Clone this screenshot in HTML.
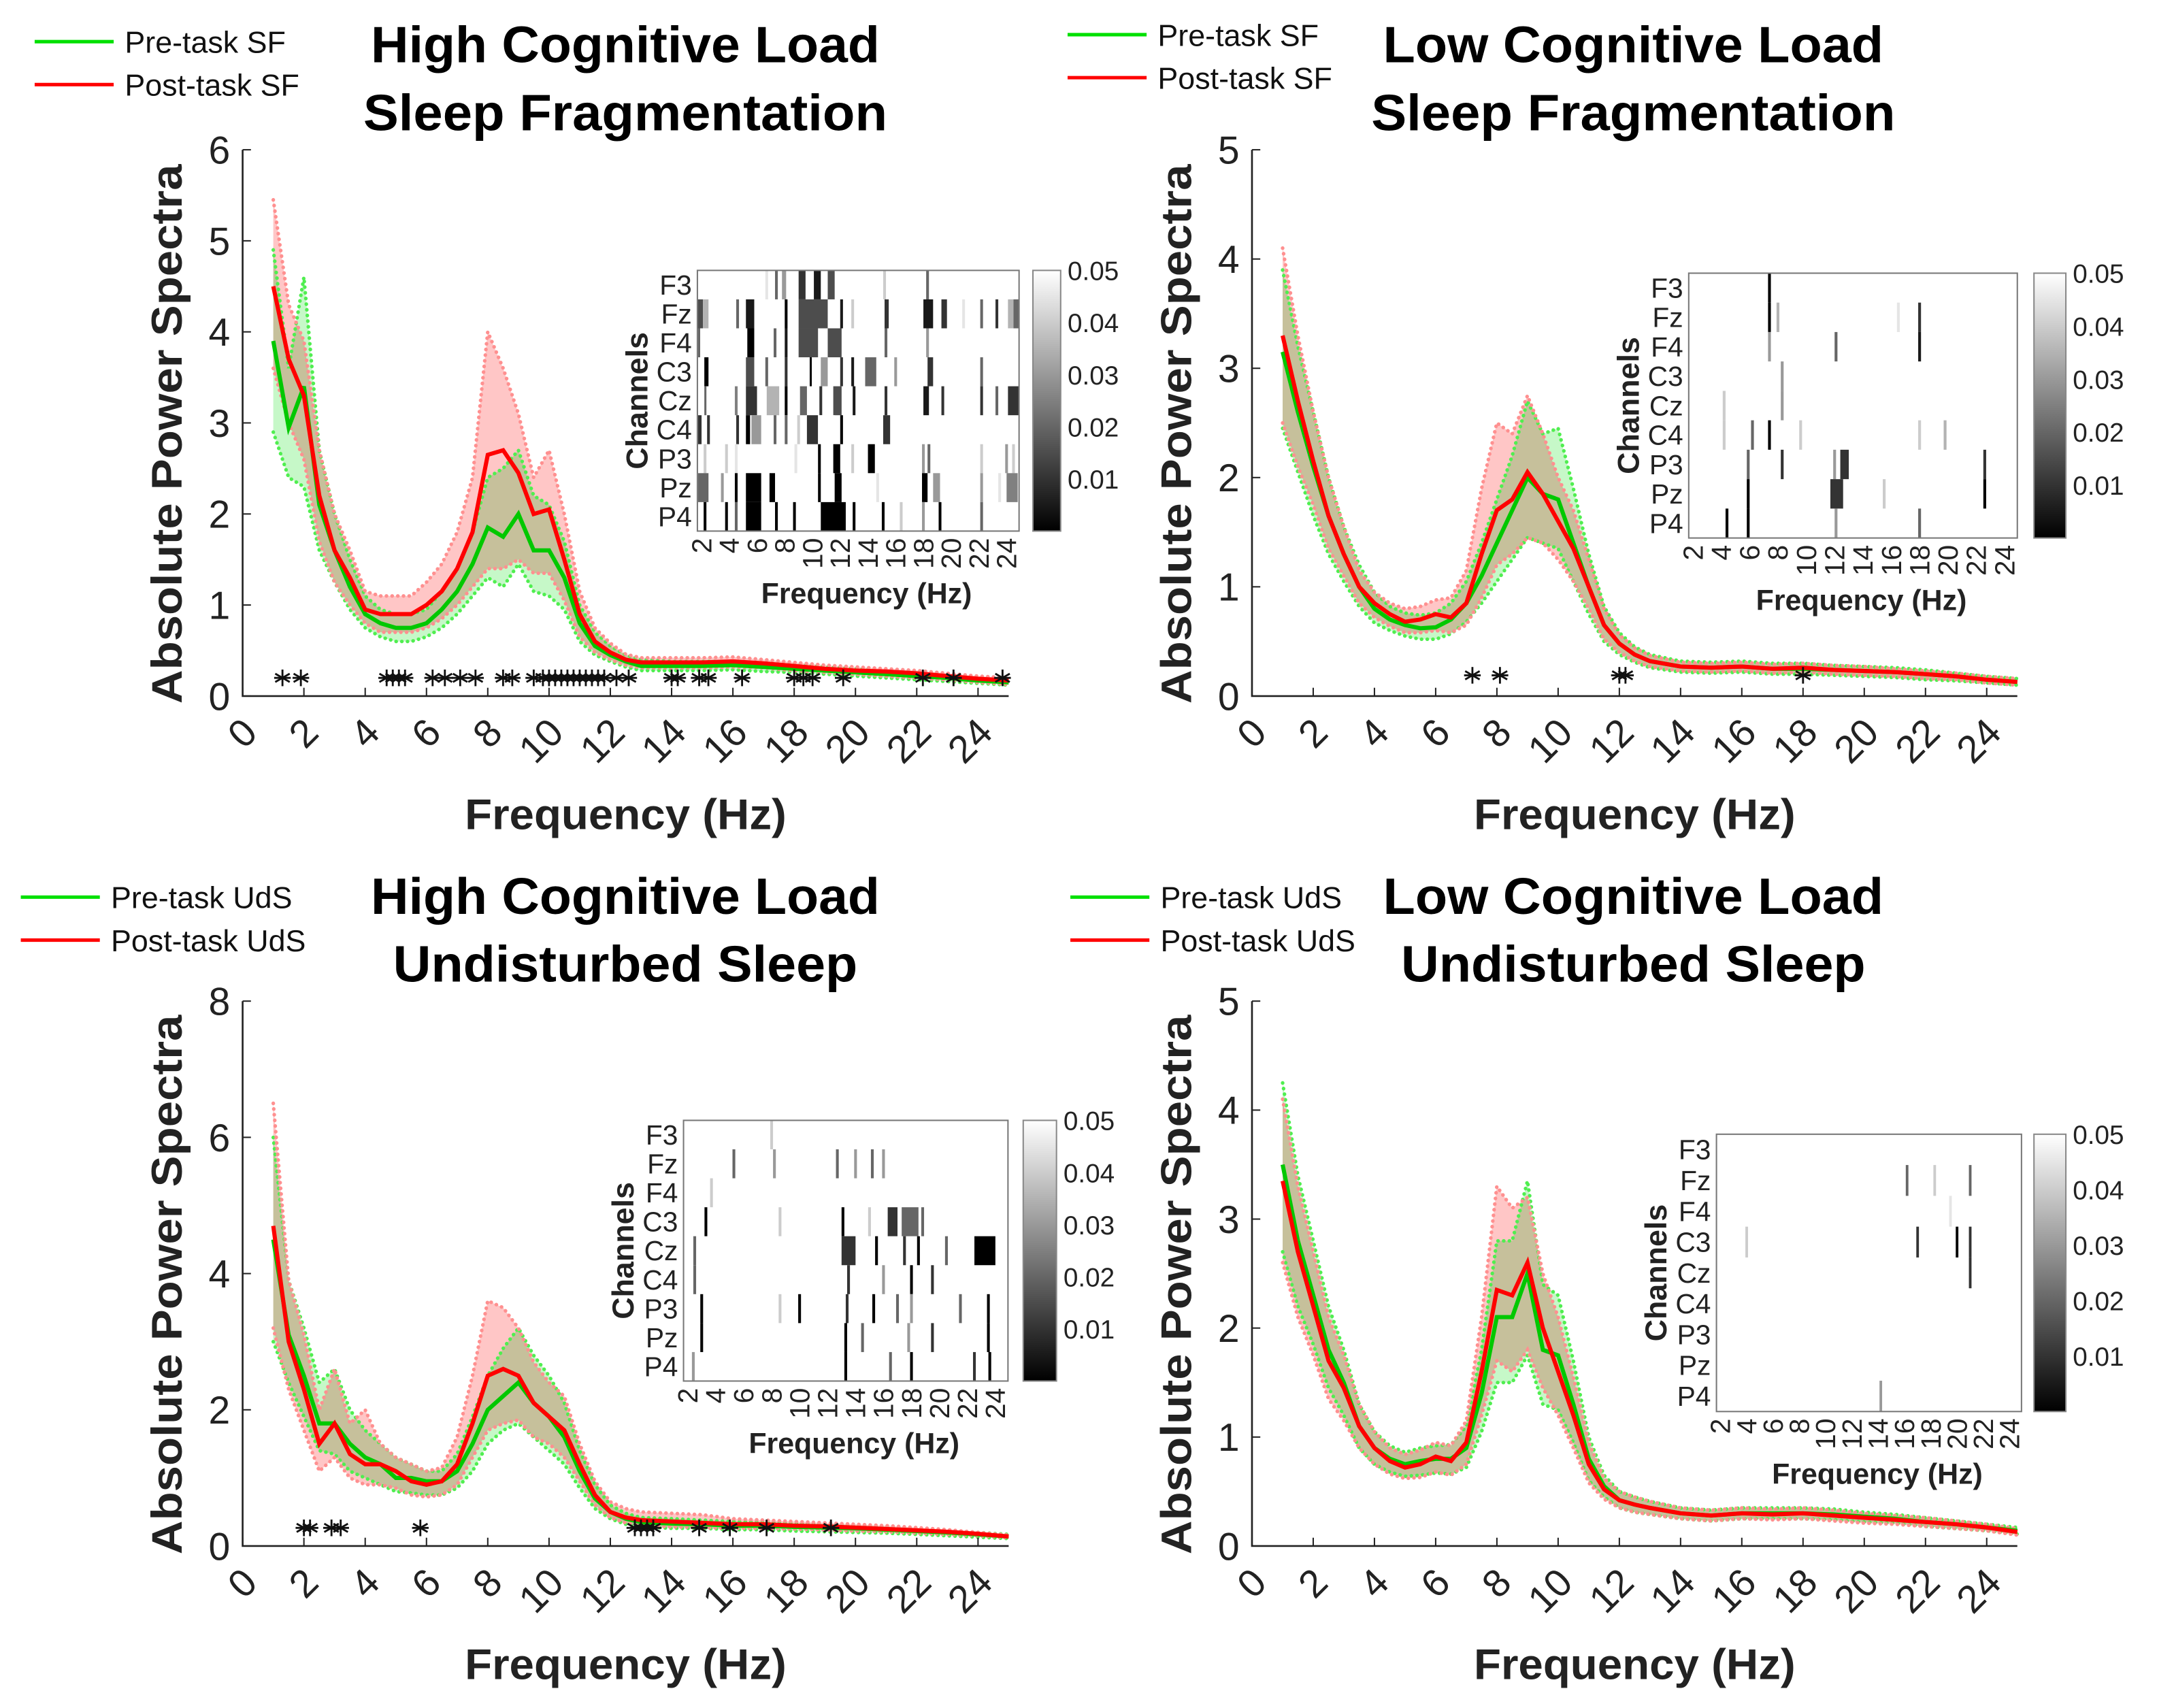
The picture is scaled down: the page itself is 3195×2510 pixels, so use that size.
<!DOCTYPE html>
<html><head><meta charset="utf-8"><style>
html,body{margin:0;padding:0;background:#fff}
svg{display:block}
text{font-family:"Liberation Sans",Arial,sans-serif}
</style></head><body>
<svg id="fig" xmlns="http://www.w3.org/2000/svg" width="3195" height="2510" viewBox="0 0 1568 1231.8">
<rect width="1568" height="1232" fill="#fff"/>
</svg>
<script>
// ---- data ----
const freq = [1,1.5,2,2.5,3,3.5,4,4.5,5,5.5,6,6.5,7,7.5,8,8.5,9,9.5,10,10.5,11,11.5,12,12.5,13,14,15,16,17,18,19,20,21,22,23,24,25];
// High load SF
const hsfPre   = [3.9,2.95,3.4,2.1,1.6,1.2,0.9,0.8,0.75,0.75,0.8,0.95,1.15,1.45,1.85,1.75,2.0,1.6,1.6,1.3,0.8,0.55,0.45,0.38,0.33,0.33,0.33,0.34,0.32,0.3,0.28,0.26,0.24,0.22,0.2,0.17,0.15];
const hsfPreHi = [4.9,3.6,4.6,2.7,2.0,1.5,1.1,0.95,0.9,0.9,0.95,1.15,1.4,1.8,2.4,2.5,2.7,2.2,2.1,1.7,1.0,0.7,0.55,0.45,0.4,0.38,0.38,0.38,0.36,0.34,0.32,0.3,0.27,0.25,0.22,0.19,0.17];
const hsfPreLo = [2.9,2.4,2.3,1.6,1.25,0.95,0.75,0.65,0.6,0.6,0.65,0.75,0.9,1.1,1.3,1.2,1.45,1.15,1.1,0.95,0.6,0.45,0.38,0.32,0.28,0.28,0.28,0.29,0.27,0.26,0.24,0.22,0.2,0.18,0.16,0.14,0.12];
const hsfPost   = [4.5,3.7,3.3,2.2,1.6,1.3,0.95,0.9,0.9,0.9,1.0,1.15,1.4,1.8,2.65,2.7,2.45,2.0,2.05,1.5,0.9,0.6,0.48,0.4,0.37,0.37,0.37,0.38,0.36,0.33,0.3,0.28,0.27,0.25,0.22,0.19,0.17];
const hsfPostHi = [5.45,4.3,3.9,2.7,2.0,1.6,1.15,1.1,1.1,1.1,1.25,1.45,1.8,2.4,4.0,3.6,3.1,2.4,2.7,2.0,1.15,0.75,0.58,0.46,0.42,0.42,0.42,0.43,0.4,0.37,0.34,0.32,0.3,0.28,0.25,0.22,0.2];
const hsfPostLo = [3.6,3.0,2.6,1.7,1.25,1.0,0.8,0.7,0.7,0.7,0.75,0.85,1.0,1.2,1.4,1.4,1.5,1.35,1.35,1.05,0.65,0.48,0.4,0.34,0.31,0.31,0.31,0.32,0.31,0.28,0.26,0.24,0.22,0.2,0.18,0.15,0.13];
const hsfStars = [1.3,1.9,4.7,4.9,5.1,5.3,6.2,6.6,7.1,7.6,8.5,8.8,9.5,9.8,10.0,10.2,10.4,10.6,10.8,11.0,11.2,11.4,11.6,11.8,12.2,12.6,14.0,14.2,14.9,15.2,16.3,18.0,18.3,18.6,19.6,22.2,23.2,24.8];
// Low load SF
const lsfPre   = [3.15,2.6,2.1,1.65,1.3,1.0,0.8,0.7,0.65,0.62,0.63,0.7,0.85,1.1,1.4,1.7,2.0,1.85,1.8,1.4,1.0,0.65,0.48,0.38,0.32,0.27,0.26,0.27,0.25,0.25,0.24,0.23,0.22,0.2,0.18,0.15,0.13];
const lsfPreHi = [3.9,3.2,2.6,2.0,1.55,1.2,0.95,0.82,0.76,0.74,0.76,0.85,1.05,1.4,1.8,2.2,2.7,2.4,2.45,1.9,1.3,0.82,0.58,0.45,0.38,0.32,0.31,0.32,0.3,0.3,0.28,0.27,0.26,0.24,0.21,0.18,0.16];
const lsfPreLo = [2.45,2.05,1.65,1.3,1.05,0.82,0.67,0.6,0.55,0.52,0.52,0.57,0.68,0.85,1.05,1.25,1.45,1.4,1.35,1.05,0.75,0.5,0.38,0.31,0.26,0.22,0.21,0.22,0.2,0.2,0.19,0.18,0.17,0.15,0.14,0.12,0.1];
const lsfPost   = [3.3,2.7,2.15,1.65,1.3,1.0,0.85,0.75,0.68,0.7,0.75,0.72,0.85,1.3,1.7,1.8,2.05,1.85,1.6,1.35,1.0,0.65,0.48,0.38,0.32,0.27,0.26,0.27,0.25,0.26,0.24,0.23,0.22,0.2,0.18,0.15,0.13];
const lsfPostHi = [4.1,3.3,2.6,2.0,1.55,1.15,0.95,0.85,0.8,0.82,0.88,0.9,1.15,1.9,2.5,2.4,2.75,2.4,2.0,1.7,1.25,0.8,0.56,0.44,0.37,0.31,0.3,0.31,0.29,0.3,0.28,0.27,0.25,0.23,0.21,0.18,0.16];
const lsfPostLo = [2.5,2.1,1.75,1.35,1.1,0.85,0.72,0.64,0.58,0.58,0.6,0.58,0.65,0.9,1.2,1.3,1.45,1.4,1.25,1.05,0.8,0.52,0.4,0.32,0.27,0.23,0.22,0.23,0.21,0.22,0.2,0.19,0.18,0.16,0.15,0.12,0.1];
const lsfStars = [7.2,8.1,12.0,12.2,18.0];
// High load UdS
const hudPre   = [4.5,3.1,2.5,1.8,1.8,1.5,1.3,1.2,1.0,1.0,0.95,0.95,1.1,1.5,2.0,2.2,2.4,2.1,1.9,1.6,1.1,0.7,0.5,0.4,0.35,0.33,0.32,0.3,0.3,0.28,0.27,0.26,0.24,0.22,0.2,0.17,0.14];
const hudPreHi = [6.0,3.9,3.2,2.4,2.6,2.0,1.7,1.5,1.3,1.2,1.1,1.1,1.35,1.9,2.5,2.9,3.2,2.8,2.5,2.1,1.4,0.9,0.6,0.48,0.42,0.4,0.38,0.36,0.35,0.33,0.32,0.3,0.28,0.26,0.23,0.2,0.17];
const hudPreLo = [3.0,2.4,1.9,1.4,1.35,1.1,1.0,0.9,0.8,0.78,0.75,0.75,0.85,1.1,1.5,1.7,1.8,1.6,1.4,1.2,0.85,0.55,0.4,0.32,0.28,0.26,0.26,0.24,0.24,0.22,0.21,0.2,0.19,0.17,0.15,0.13,0.11];
const hudPost   = [4.7,3.0,2.3,1.5,1.8,1.35,1.2,1.2,1.1,0.95,0.9,0.95,1.2,1.8,2.5,2.6,2.5,2.1,1.9,1.7,1.2,0.75,0.5,0.42,0.38,0.36,0.34,0.32,0.32,0.3,0.29,0.27,0.25,0.23,0.21,0.18,0.14];
const hudPostHi = [6.5,3.9,3.1,2.0,2.6,1.8,2.0,1.5,1.3,1.2,1.1,1.15,1.6,2.5,3.6,3.5,3.2,2.7,2.4,2.2,1.5,0.95,0.65,0.55,0.5,0.48,0.46,0.4,0.38,0.36,0.34,0.32,0.3,0.27,0.24,0.2,0.16];
const hudPostLo = [3.2,2.3,1.7,1.1,1.3,1.0,0.9,0.9,0.85,0.75,0.72,0.75,0.9,1.3,1.7,1.8,1.85,1.6,1.5,1.3,0.95,0.6,0.42,0.34,0.3,0.28,0.27,0.26,0.26,0.25,0.24,0.22,0.21,0.19,0.17,0.15,0.12];
const hudStars = [2.0,2.2,2.9,3.2,5.8,12.8,13.0,13.2,13.4,14.9,15.9,17.1,19.2];
// Low load UdS
const ludPre   = [3.5,2.8,2.3,1.8,1.5,1.1,0.9,0.8,0.75,0.78,0.8,0.8,0.9,1.4,2.1,2.1,2.5,1.8,1.75,1.3,0.8,0.55,0.42,0.38,0.35,0.3,0.28,0.3,0.3,0.3,0.29,0.27,0.25,0.22,0.2,0.17,0.14];
const ludPreHi = [4.25,3.4,2.8,2.2,1.8,1.3,1.05,0.92,0.86,0.9,0.92,0.93,1.1,1.8,2.8,2.8,3.35,2.4,2.3,1.7,1.0,0.65,0.5,0.45,0.41,0.35,0.33,0.35,0.35,0.35,0.34,0.31,0.29,0.26,0.23,0.2,0.17];
const ludPreLo = [2.7,2.2,1.85,1.45,1.2,0.9,0.75,0.68,0.64,0.65,0.67,0.66,0.72,1.05,1.5,1.5,1.75,1.3,1.25,0.95,0.6,0.45,0.35,0.31,0.29,0.25,0.23,0.25,0.25,0.25,0.24,0.22,0.21,0.18,0.16,0.14,0.11];
const ludPost   = [3.35,2.7,2.2,1.7,1.45,1.1,0.9,0.78,0.72,0.75,0.82,0.78,0.95,1.6,2.35,2.3,2.6,2.0,1.6,1.2,0.75,0.52,0.42,0.38,0.35,0.3,0.28,0.3,0.29,0.3,0.28,0.26,0.24,0.22,0.2,0.17,0.13];
const ludPostHi = [4.1,3.3,2.7,2.1,1.75,1.3,1.05,0.9,0.84,0.88,0.95,0.92,1.15,2.1,3.3,3.1,3.2,2.5,2.1,1.55,0.95,0.62,0.5,0.45,0.41,0.35,0.33,0.35,0.34,0.35,0.33,0.3,0.28,0.26,0.23,0.2,0.16];
const ludPostLo = [2.6,2.1,1.75,1.35,1.15,0.9,0.75,0.66,0.62,0.63,0.68,0.65,0.75,1.2,1.7,1.6,1.8,1.45,1.2,0.9,0.58,0.43,0.35,0.31,0.29,0.25,0.23,0.25,0.24,0.25,0.23,0.21,0.2,0.18,0.16,0.14,0.1];
const ludStars = [];
const starLevel = 0.2;
// heatmap channels and ticks
const channels = ["F3","Fz","F4","C3","Cz","C4","P3","Pz","P4"];
const hmTicks = [2,4,6,8,10,12,14,16,18,20,22,24];
const cbTicks = [0.01,0.02,0.03,0.04,0.05];
// strips: [row, fStart, fEnd, p]
const hsfHeat = [[0,7.3,7.5,.02],[0,7.8,8.1,.03],[0,9.0,9.5,.01],[0,10.1,10.6,.005],[0,11.1,11.6,.015],[0,6.6,6.8,.045],[0,15.1,15.3,.04],[0,18.2,18.4,.02],
[1,1.7,2.1,.015],[1,2.1,2.5,.035],[1,4.5,4.7,.02],[1,5.2,5.8,.005],[1,8.0,8.2,0],[1,9.0,11.1,.015],[1,12.0,12.2,.005],[1,12.8,13.0,.04],[1,15.2,15.5,.01],[1,18.0,18.7,.005],[1,19.3,19.7,.01],[1,20.8,21.0,.045],[1,22.1,22.3,.02],[1,23.2,23.4,.01],[1,24.1,24.5,.035],[1,24.5,24.9,.02],
[2,1.75,1.9,.02],[2,5.3,5.8,0],[2,7.2,7.4,.02],[2,8.0,8.2,.005],[2,9.0,10.4,.015],[2,11.1,12.1,.015],[2,15.2,15.4,.02],[2,18.2,18.4,.03],
[3,2.2,2.5,0],[3,5.2,5.8,.015],[3,6.6,6.8,.02],[3,8.0,8.2,.01],[3,9.8,9.95,0],[3,10.6,11.1,.03],[3,12.0,12.2,.01],[3,12.8,13.0,.005],[3,13.8,14.6,.02],[3,15.9,16.1,.03],[3,18.3,18.7,.01],[3,22.1,22.3,.02],
[4,2.2,2.3,.02],[4,4.4,4.6,.025],[4,5.2,6.0,.01],[4,6.7,7.6,.035],[4,8.0,8.2,0],[4,9.1,9.6,.02],[4,10.5,10.7,.01],[4,11.5,12.1,.015],[4,12.9,13.1,.005],[4,15.2,15.4,.01],[4,18.0,18.4,.005],[4,19.3,19.5,.01],[4,22.1,22.3,.01],[4,23.2,23.4,.02],[4,24.1,24.9,.01],
[5,1.75,2.0,.01],[5,2.4,2.6,.01],[5,4.5,4.7,.01],[5,5.2,5.5,0],[5,5.6,6.3,.03],[5,7.2,7.4,.02],[5,8.0,8.2,.02],[5,8.9,9.1,.04],[5,9.6,10.4,.01],[5,10.4,11.6,.05],[5,12.0,12.2,0],[5,15.1,15.6,.01],
[6,2.15,2.35,.04],[6,3.7,3.9,.04],[6,4.4,4.6,.045],[6,8.7,8.9,.045],[6,10.4,10.6,0],[6,11.5,12.0,0],[6,12.8,13.0,.04],[6,14.0,14.5,0],[6,17.9,18.1,.03],[6,18.3,18.5,.02],[6,22.1,22.3,.04],[6,23.9,24.1,.03],[6,24.4,24.6,.04],
[7,1.75,2.5,.02],[7,3.4,3.6,.03],[7,4.4,4.6,0],[7,5.2,6.3,0],[7,6.9,7.3,0],[7,10.4,10.6,0],[7,11.6,12.1,0],[7,14.6,14.8,.045],[7,17.9,18.3,0],[7,18.7,19.2,.03],[7,22.1,22.3,.03],[7,23.4,23.6,.045],[7,24.0,24.8,.025],
[8,2.15,2.35,0],[8,3.7,3.9,0],[8,4.4,4.6,.02],[8,5.2,6.3,0],[8,7.3,7.5,0],[8,8.6,8.8,0],[8,10.6,12.4,0],[8,12.9,13.1,0],[8,15.0,15.2,0],[8,16.3,16.5,.04],[8,17.9,18.1,.03],[8,19.1,19.3,0],[8,22.1,22.3,.02]];
const lsfHeat = [[0,7.3,7.5,0],[1,7.9,8.1,.035],[1,7.3,7.5,0],[1,17.9,18.1,.01],[1,16.4,16.6,.045],[2,7.3,7.5,.03],[2,12.0,12.2,.02],[2,17.9,18.1,.005],[3,8.2,8.4,.03],[4,4.1,4.3,.04],[4,8.2,8.4,.03],[5,4.1,4.3,.04],[5,6.1,6.3,.02],[5,7.3,7.5,0],[5,9.5,9.7,.04],[5,17.9,18.1,.04],[5,19.7,19.9,.035],[6,5.8,6.0,.02],[6,8.2,8.4,.01],[6,11.9,12.1,.03],[6,12.4,13.0,.01],[6,22.5,22.7,.01],[7,5.8,6.0,0],[7,11.7,12.6,.01],[7,15.4,15.6,.04],[7,22.5,22.7,0],[8,4.3,4.5,0],[8,5.8,6.0,0],[8,12.0,12.2,.03],[8,17.9,18.1,.02]];
const hudHeat = [[0,7.9,8.1,.04],[1,5.2,5.4,.02],[1,8.1,8.3,.03],[1,12.6,12.8,.02],[1,13.9,14.1,.03],[1,15.1,15.3,.02],[1,15.9,16.1,.03],[2,3.6,3.8,.04],[3,3.2,3.4,0],[3,8.5,8.7,.04],[3,13.0,13.2,0],[3,14.9,15.1,.04],[3,16.3,17.0,.01],[3,17.3,18.5,.02],[3,18.7,18.9,.02],[4,2.4,2.6,.02],[4,13.0,14.0,.01],[4,15.4,15.6,0],[4,17.4,17.6,.01],[4,18.4,18.6,0],[4,20.4,20.6,.02],[4,22.5,24.0,0],[5,2.4,2.6,.02],[5,13.4,13.6,.01],[5,15.9,16.1,.03],[5,17.9,18.1,0],[5,19.4,19.6,.01],[6,2.9,3.1,0],[6,8.5,8.7,.04],[6,9.9,10.1,0],[6,13.3,13.5,.01],[6,15.2,15.4,0],[6,16.9,17.1,.02],[6,17.9,18.1,.03],[6,21.4,21.6,.02],[6,23.4,23.6,0],[7,2.9,3.1,0],[7,13.2,13.4,0],[7,14.4,14.6,.02],[7,17.7,17.9,.03],[7,19.4,19.6,.01],[7,23.4,23.6,0],[8,2.3,2.5,.03],[8,13.2,13.4,0],[8,16.4,16.6,.02],[8,17.9,18.1,0],[8,22.4,22.6,.01],[8,23.5,23.7,0]];
const ludHeat = [[1,16.1,16.3,.02],[1,18.2,18.4,.04],[1,20.9,21.1,.02],[2,19.4,19.6,.045],[3,3.9,4.1,.04],[3,16.9,17.1,.01],[3,19.9,20.1,0],[3,20.9,21.1,.01],[4,20.9,21.1,.01],[8,14.1,14.3,.03]];

// ---- drawing ----
const NS="http://www.w3.org/2000/svg";
const svg=document.getElementById('fig');
function el(tag,attrs,parent){const e=document.createElementNS(NS,tag);for(const k in attrs)e.setAttribute(k,attrs[k]);(parent||svg).appendChild(e);return e;}
function txt(s,attrs,parent){const e=el('text',attrs,parent);e.textContent=s;return e;}

function drawPanel(P){
  const g=el('g',{});
  
  
  const sx=f=>P.x0+f/25*(P.x1-P.x0);
  const sy=v=>P.yb-v/P.ymax*(P.yb-P.yt);
  const bandPath=(hi,lo)=>{let d='';freq.forEach((f,i)=>{d+=(i?'L':'M')+sx(f).toFixed(1)+','+sy(hi[i]).toFixed(1);});for(let i=freq.length-1;i>=0;i--)d+='L'+sx(freq[i]).toFixed(1)+','+sy(lo[i]).toFixed(1);return d+'Z';};
  const linePath=arr=>freq.map((f,i)=>(i?'L':'M')+sx(f).toFixed(1)+','+sy(arr[i]).toFixed(1)).join('');
  const bands=el('g',{style:'isolation:isolate'},g);
  const b1=el('path',{d:bandPath(P.preHi,P.preLo),fill:'#c6f8c8',style:'mix-blend-mode:multiply'},bands);
  
  
  const b2=el('path',{d:bandPath(P.postHi,P.postLo),fill:'#ffc6c6',style:'mix-blend-mode:multiply'},bands);
  
  
  const ov=el('g',{},g);
  [[P.preHi,'#50ee50'],[P.preLo,'#50ee50'],[P.postHi,'#ff9090'],[P.postLo,'#ff9090']].forEach(([a,c])=>{
    const e=el('path',{d:linePath(a),fill:'none',stroke:c,'stroke-width':2.6,'stroke-dasharray':'0.1 4','stroke-linecap':'round'},ov);
    
    
  });
  const lp=el('path',{d:linePath(P.pre),fill:'none',stroke:'#00c800','stroke-width':3},g);
  
  
  const lq=el('path',{d:linePath(P.post),fill:'none',stroke:'#ff0000','stroke-width':3},g);
  
  
  // stars
  P.stars.forEach(f=>{
    const cx=sx(f),cy=sy(starLevel*(P.ymax/6>1?P.ymax/6:1)*(P.ymax==5?0.95:1));
    const s=el('g',{stroke:'#111','stroke-width':1.4},g);
    
    
    const r=6;
    el('line',{x1:cx,y1:cy-r,x2:cx,y2:cy+r},s);
    el('line',{x1:cx-r*0.87,y1:cy-r/2,x2:cx+r*0.87,y2:cy+r/2},s);
    el('line',{x1:cx-r*0.87,y1:cy+r/2,x2:cx+r*0.87,y2:cy-r/2},s);
    el('line',{x1:cx-r,y1:cy,x2:cx+r,y2:cy},s);
  });
  // axes
  const ax=el('path',{d:`M${P.x0},${P.yt}V${P.yb}H${P.x1}`,fill:'none',stroke:'#222','stroke-width':1.3},g);
  
  
  for(let v=0;v<=P.ymax;v+=P.ystep){
    const y=sy(v);
    el('line',{x1:P.x0,y1:y,x2:P.x0+6,y2:y,stroke:'#222','stroke-width':1},g);
    const t=txt(String(v),{x:P.x0-9,y:y+10,'text-anchor':'end','font-size':28,fill:'#222'},g);
    
    
  }
  for(let f=0;f<=24;f+=2){
    const x=sx(f);
    el('line',{x1:x,y1:P.yb,x2:x,y2:P.yb-6,stroke:'#222','stroke-width':1},g);
    const t=txt(String(f),{x:0,y:0,'text-anchor':'end','font-size':28,fill:'#222',transform:`translate(${x+12},${P.yb+28}) rotate(-45)`},g);
    
    
  }
  const xt=txt('Frequency (Hz)',{x:(P.x0+P.x1)/2,y:P.yb+96,'text-anchor':'middle','font-size':31,'font-weight':'bold',fill:'#222',textLength:232,lengthAdjust:'spacingAndGlyphs'},g);
  
  
  const yt=txt('Absolute Power Spectra',{x:0,y:0,'text-anchor':'middle','font-size':31,'font-weight':'bold',fill:'#222',textLength:389,lengthAdjust:'spacingAndGlyphs',transform:`translate(${P.x0-44},${(P.yt+P.yb)/2+8}) rotate(-90)`},g);
  
  
  // titles
  P.titles.forEach((s,i)=>{
    const t=txt(s[0],{x:P.tx,y:P.ty+i*49,'text-anchor':'middle','font-size':37,'font-weight':'bold',fill:'#000',textLength:s[1],lengthAdjust:'spacingAndGlyphs'},g);
    
    
  });
  // legend
  const lg=el('g',{},g);
  
  
  [[P.legPre,'#00e000',P.ly],[P.legPost,'#ff0000',P.ly+31]].forEach(([s,c,y])=>{
    const e=el('line',{x1:P.lx,y1:y,x2:P.lx+57,y2:y,stroke:c,'stroke-width':2.5},lg);
    
    
    const t=txt(s,{x:P.lx+65,y:y+8,'font-size':22,fill:'#111'},lg);
    
    
  });
  // inset heatmap
  const H=P.hm;
  const hg=el('g',{},g);
  
  
  el('rect',{x:H.x0,y:H.y0,width:H.x1-H.x0,height:H.y1-H.y0,fill:'#fff'},hg);
  const fx=f=>H.x0+(f-1.7)/(24.9-1.7)*(H.x1-H.x0);
  const rh=(H.y1-H.y0)/9;
  const gray=p=>{const v=Math.round(Math.min(1,p/0.05)*255);return `rgb(${v},${v},${v})`;};
  P.heat.forEach(([r,a,b,p])=>{
    const c=el('rect',{x:fx(a),y:H.y0+r*rh,width:Math.max(1.5,fx(b)-fx(a)),height:rh,fill:gray(p)},hg);
    
    
  });
  el('rect',{x:H.x0,y:H.y0,width:H.x1-H.x0,height:H.y1-H.y0,fill:'none',stroke:'#777','stroke-width':1},hg);
  channels.forEach((ch,i)=>{
    const t=txt(ch,{x:H.x0-4,y:H.y0+(i+0.5)*rh+7,'text-anchor':'end','font-size':20,fill:'#222'},hg);
    
    
  });
  hmTicks.forEach(f=>{
    const t=txt(String(f),{x:0,y:0,'text-anchor':'end','font-size':20,fill:'#222',transform:`translate(${fx(f)+7},${H.y1+5}) rotate(-90)`},hg);
    
    
  });
  const ct=txt('Channels',{x:0,y:0,'text-anchor':'middle','font-size':22,'font-weight':'bold',fill:'#222',transform:`translate(${H.x0-36},${(H.y0+H.y1)/2}) rotate(-90)`},hg);
  
  
  const ft=txt('Frequency (Hz)',{x:(H.x0+H.x1)/2+6,y:H.y1+52,'text-anchor':'middle','font-size':21,'font-weight':'bold',fill:'#222',textLength:152,lengthAdjust:'spacingAndGlyphs'},hg);
  
  
  // colorbar
  const gid='cg'+P.id;
  const defs=el('defs',{},hg);
  const lgr=el('linearGradient',{id:gid,x1:0,y1:1,x2:0,y2:0},defs);
  el('stop',{offset:0,'stop-color':'#000'},lgr);
  el('stop',{offset:1,'stop-color':'#fff'},lgr);
  const cb=el('rect',{x:H.cx,y:H.y0,width:H.cw,height:H.y1-H.y0,fill:`url(#${gid})`,stroke:'#888','stroke-width':1},hg);
  
  
  cbTicks.forEach(v=>{
    const y=H.y1-v/0.05*(H.y1-H.y0);
    const t=txt(v.toFixed(2),{x:H.cx+H.cw+5,y:y+7,'font-size':19,fill:'#222'},hg);
    
    
  });
}

drawPanel({id:1,name:'panel-high-load-sf',x0:175,x1:727.5,yt:108,yb:502,ymax:6,ystep:1,pre:hsfPre,preHi:hsfPreHi,preLo:hsfPreLo,post:hsfPost,postHi:hsfPostHi,postLo:hsfPostLo,stars:hsfStars,
  titles:[['High Cognitive Load',367],['Sleep Fragmentation',378]],tx:451,ty:45,legPre:'Pre-task SF',legPost:'Post-task SF',lx:25,ly:30,
  heat:hsfHeat,hm:{x0:503,x1:735,y0:195,y1:383,cx:745,cw:20}});
drawPanel({id:2,name:'panel-low-load-sf',x0:903,x1:1455,yt:108,yb:502,ymax:5,ystep:1,pre:lsfPre,preHi:lsfPreHi,preLo:lsfPreLo,post:lsfPost,postHi:lsfPostHi,postLo:lsfPostLo,stars:lsfStars,
  titles:[['Low Cognitive Load',361],['Sleep Fragmentation',378]],tx:1178,ty:45,legPre:'Pre-task SF',legPost:'Post-task SF',lx:770,ly:25,
  heat:lsfHeat,hm:{x0:1218,x1:1455,y0:197,y1:388,cx:1467,cw:23}});
drawPanel({id:3,name:'panel-high-load-uds',x0:175,x1:727.5,yt:722,yb:1115,ymax:8,ystep:2,pre:hudPre,preHi:hudPreHi,preLo:hudPreLo,post:hudPost,postHi:hudPostHi,postLo:hudPostLo,stars:hudStars,
  titles:[['High Cognitive Load',367],['Undisturbed Sleep',335]],tx:451,ty:659,legPre:'Pre-task UdS',legPost:'Post-task UdS',lx:15,ly:647,
  heat:hudHeat,hm:{x0:493,x1:727,y0:808,y1:996,cx:738,cw:24}});
drawPanel({id:4,name:'panel-low-load-uds',x0:903,x1:1455,yt:722,yb:1115,ymax:5,ystep:1,pre:ludPre,preHi:ludPreHi,preLo:ludPreLo,post:ludPost,postHi:ludPostHi,postLo:ludPostLo,stars:ludStars,
  titles:[['Low Cognitive Load',361],['Undisturbed Sleep',335]],tx:1178,ty:659,legPre:'Pre-task UdS',legPost:'Post-task UdS',lx:772,ly:647,
  heat:ludHeat,hm:{x0:1238,x1:1458,y0:818,y1:1018,cx:1467,cw:23}});
</script>
</body></html>
